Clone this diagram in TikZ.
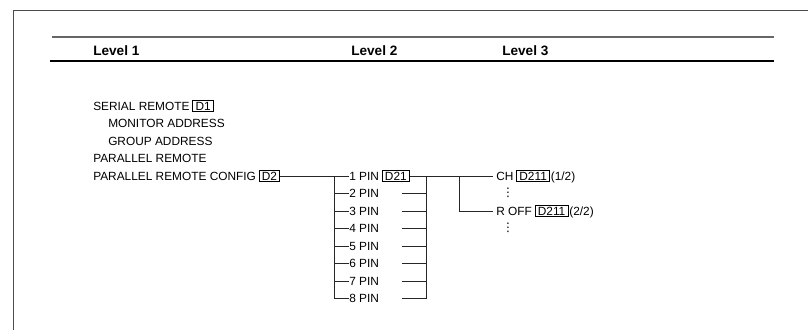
\documentclass[tikz,border=0pt]{standalone}
\usepackage{fontspec}
\setmainfont{Liberation Sans}
\newfontfamily\symfont{DejaVu Sans}
\usetikzlibrary{positioning}

\begin{document}
\begin{tikzpicture}[
  x=0.75pt, y=-0.75pt,
  node distance=2pt,
  item/.style={anchor=west, inner sep=0pt, text height=6.4pt, text depth=0pt, font=\fontsize{8.9}{10}\selectfont},
  hdr/.style={anchor=west, inner sep=0pt, font=\fontsize{10.2}{12}\selectfont\bfseries},
  dbox/.style={draw, inner xsep=2pt, inner ysep=1.2pt, text height=6.4pt, text depth=0pt, font=\fontsize{8.9}{10}\selectfont, line width=0.6pt},
  dots/.style={inner sep=0pt, font=\fontsize{8.9}{10}\selectfont\symfont},
  wire/.style={line width=0.65pt, black!85}
]
\useasboundingbox (0,0) rectangle (808,330);

% page frame and header rules
\draw[black!70, line width=0.7pt] (808,10) -- (13.5,10) -- (13.5,330);
\draw[black!60, line width=0.9pt] (52,37) -- (774,37);
\draw[line width=1.5pt] (50,61) -- (774,61);

\node[hdr] (lv1) at (93,51)  {Level 1};
\node[hdr] (lv2) at (351,51) {Level 2};
\node[hdr] (lv3) at (502,51) {Level 3};

% level 1
\node[item] (serial)  at (93,106)    {SERIAL REMOTE};
\node[dbox, right=2pt of serial] (d1) {D1};
\node[item] (monitor) at (108,123.5) {MONITOR ADDRESS};
\node[item] (group)   at (108,141)   {GROUP ADDRESS};
\node[item] (parrem)  at (93,158.5)  {PARALLEL REMOTE};
\node[item] (config)  at (93,176)    {PARALLEL REMOTE CONFIG};
\node[dbox, right=2pt of config] (d2) {D2};

% level 2
\coordinate (lbus) at (334,176);
\coordinate (rbus) at (426,176);
\foreach \n in {1,...,8}{
  \node[item] (pin\n) at (349,{176+17.5*(\n-1)}) {\n\ PIN};
  \draw[wire] (lbus |- pin\n.west) -- (pin\n.west);
}
\node[dbox, right=2pt of pin1] (d21) {D21};
\foreach \n in {2,...,8}
  \draw[wire] ([xshift=-18pt]rbus |- pin\n.west) -- (rbus |- pin\n.west);
\draw[wire] (d2) -- (lbus) -- (lbus |- pin8.west);
\draw[wire] (rbus) -- (rbus |- pin8.west);

% level 3
\node[item] (ch)   at (496,176) {CH};
\node[dbox, right=2pt of ch] (d211a) {D211};
\node[item, right=0.5pt of d211a] (half1) {(1/2)};
\node[dots] (dots1) at (508,192.5) {⋮};
\node[item] (roff) at (496,211) {R OFF};
\node[dbox, right=2pt of roff] (d211b) {D211};
\node[item, right=0.5pt of d211b] (half2) {(2/2)};
\node[dots] (dots2) at (508,227.5) {⋮};

\coordinate (branch) at (459,176);
\draw[wire] (d21) -- ([xshift=-2pt]ch.west);
\draw[wire] (branch) |- ([xshift=-2pt]roff.west);
\end{tikzpicture}
\end{document}
